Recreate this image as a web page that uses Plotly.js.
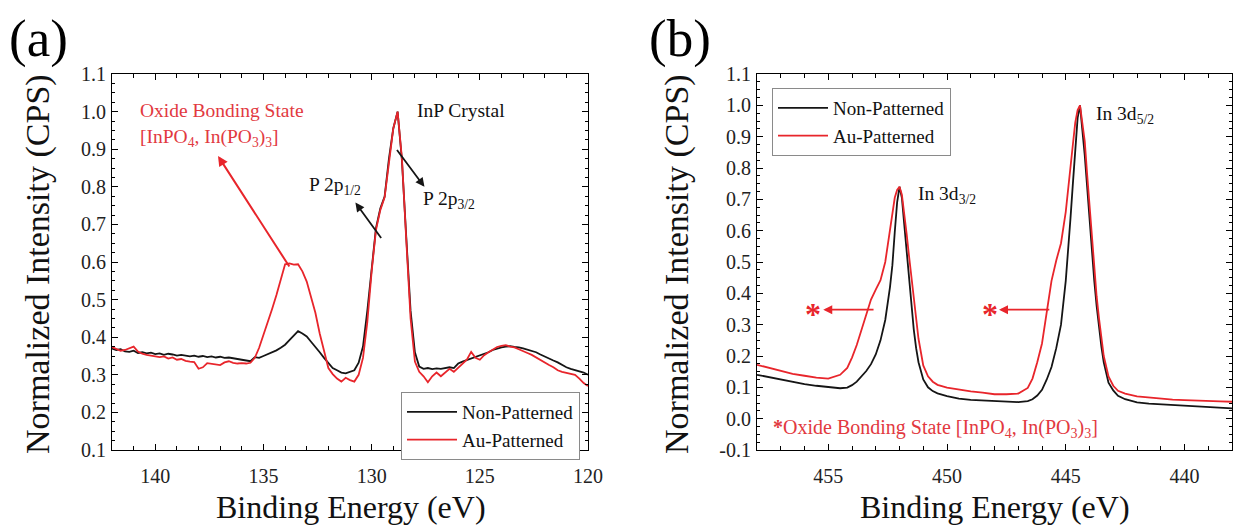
<!DOCTYPE html>
<html>
<head>
<meta charset="utf-8">
<script src="https://cdn.plot.ly/plotly-3.0.1.min.js"></script>
</head>
<body style="margin:0;background:#fff">
<div id="chart" style="width:1234px;height:529px"></div>
<script>
// ---------- Panel (a): P 2p region ----------
const aEnergy = [
  142.0,141.8,141.6,141.4,141.2,141.0,140.8,140.6,140.4,140.2,
  140.0,139.8,139.6,139.4,139.2,139.0,138.8,138.6,138.4,138.2,
  138.0,137.8,137.6,137.4,137.2,137.0,136.8,136.6,136.4,136.2,
  136.0,135.8,135.6,135.4,135.2,135.0,134.8,134.6,134.4,134.2,
  134.0,133.8,133.6,133.4,133.2,133.0,132.8,132.6,132.4,132.2,
  132.0,131.8,131.6,131.4,131.2,131.0,130.8,130.6,130.4,130.2,
  130.0,129.8,129.6,129.4,129.2,129.0,128.8,128.6,128.4,128.2,
  128.0,127.8,127.6,127.4,127.2,127.0,126.8,126.6,126.4,126.2,
  126.0,125.8,125.6,125.4,125.2,125.0,124.8,124.6,124.4,124.2,
  124.0,123.8,123.6,123.4,123.2,123.0,122.8,122.6,122.4,122.2,
  122.0,121.8,121.6,121.4,121.2,121.0,120.8,120.6,120.4,120.2,
  120.0
];
const aNonPatterned = [
  0.370,0.366,0.368,0.362,0.361,0.364,0.358,0.360,0.357,0.359,
  0.355,0.357,0.353,0.356,0.354,0.351,0.353,0.351,0.349,0.351,
  0.348,0.350,0.347,0.349,0.346,0.348,0.345,0.346,0.343,0.342,
  0.340,0.338,0.336,0.347,0.345,0.350,0.355,0.358,0.365,0.372,
  0.380,0.392,0.404,0.416,0.410,0.402,0.388,0.375,0.360,0.345,
  0.330,0.318,0.312,0.306,0.304,0.307,0.312,0.332,0.375,0.470,
  0.590,0.690,0.742,0.774,0.875,0.955,1.000,0.870,0.667,0.470,
  0.360,0.322,0.316,0.318,0.315,0.317,0.316,0.319,0.320,0.318,
  0.330,0.335,0.339,0.342,0.346,0.352,0.356,0.360,0.366,0.370,
  0.373,0.375,0.376,0.374,0.373,0.370,0.367,0.365,0.360,0.354,
  0.348,0.342,0.338,0.333,0.326,0.320,0.316,0.313,0.310,0.306,
  0.300
];
const aAuPatterned = [
  0.374,0.370,0.364,0.366,0.370,0.375,0.362,0.356,0.353,0.351,
  0.350,0.347,0.349,0.343,0.346,0.340,0.342,0.337,0.335,0.334,
  0.316,0.320,0.331,0.329,0.327,0.326,0.333,0.336,0.332,0.330,
  0.331,0.330,0.332,0.345,0.372,0.405,0.438,0.475,0.512,0.555,
  0.594,0.596,0.593,0.594,0.575,0.548,0.505,0.465,0.410,0.360,
  0.318,0.302,0.290,0.282,0.292,0.286,0.282,0.300,0.345,0.440,
  0.575,0.685,0.738,0.772,0.870,0.955,1.000,0.875,0.660,0.450,
  0.335,0.308,0.296,0.280,0.296,0.306,0.296,0.305,0.316,0.308,
  0.318,0.330,0.340,0.361,0.345,0.340,0.352,0.360,0.366,0.374,
  0.377,0.379,0.375,0.373,0.368,0.362,0.358,0.353,0.346,0.338,
  0.332,0.326,0.320,0.312,0.308,0.305,0.302,0.300,0.290,0.278,
  0.270
];

// ---------- Panel (b): In 3d region ----------
const bEnergy = [
  458.0,457.5,457.0,456.5,456.0,455.5,455.0,454.5,454.2,454.0,
  453.8,453.6,453.4,453.2,453.0,452.8,452.6,452.4,452.3,452.2,
  452.1,452.0,451.9,451.8,451.7,451.6,451.5,451.4,451.3,451.2,
  451.0,450.8,450.6,450.4,450.0,449.5,449.0,448.5,448.0,447.5,
  447.0,446.6,446.4,446.2,446.0,445.8,445.6,445.4,445.2,445.0,
  444.9,444.8,444.7,444.6,444.5,444.4,444.3,444.2,444.1,444.0,
  443.9,443.8,443.7,443.6,443.5,443.4,443.2,443.0,442.8,442.5,
  442.0,441.5,441.0,440.5,440.0,439.5,439.0,438.5,438.0
];
const bNonPatterned = [
  0.140,0.132,0.124,0.116,0.110,0.105,0.100,0.097,0.099,0.107,
  0.118,0.134,0.152,0.174,0.205,0.250,0.315,0.420,0.490,0.595,
  0.690,0.740,0.705,0.620,0.530,0.440,0.360,0.285,0.225,0.180,
  0.125,0.100,0.088,0.081,0.072,0.064,0.060,0.058,0.055,0.054,
  0.053,0.056,0.062,0.074,0.092,0.125,0.165,0.225,0.300,0.440,
  0.530,0.640,0.750,0.870,0.960,1.000,0.930,0.840,0.740,0.635,
  0.530,0.440,0.360,0.290,0.230,0.180,0.115,0.090,0.073,0.062,
  0.052,0.048,0.046,0.045,0.042,0.040,0.037,0.035,0.033
];
const bAuPatterned = [
  0.172,0.162,0.153,0.143,0.137,0.131,0.128,0.140,0.162,0.195,
  0.235,0.282,0.335,0.380,0.412,0.442,0.500,0.610,0.660,0.705,
  0.730,0.740,0.715,0.660,0.590,0.520,0.455,0.385,0.320,0.255,
  0.170,0.135,0.118,0.108,0.099,0.092,0.087,0.083,0.078,0.078,
  0.080,0.098,0.128,0.180,0.240,0.340,0.440,0.505,0.560,0.660,
  0.725,0.805,0.875,0.945,0.985,1.000,0.950,0.885,0.780,0.680,
  0.585,0.480,0.390,0.320,0.250,0.200,0.135,0.105,0.089,0.080,
  0.071,0.067,0.064,0.061,0.059,0.057,0.056,0.055,0.054
];

const seriesNames = ['Non-Patterned', 'Au-Patterned'];
const yTickValsA = [0.1,0.2,0.3,0.4,0.5,0.6,0.7,0.8,0.9,1.0,1.1];
const yTickTextA = ['0.1','0.2','0.3','0.4','0.5','0.6','0.7','0.8','0.9','1.0','1.1'];
const yTickValsB = [-0.1,0.0,0.1,0.2,0.3,0.4,0.5,0.6,0.7,0.8,0.9,1.0,1.1];
const yTickTextB = ['-0.1','0.0','0.1','0.2','0.3','0.4','0.5','0.6','0.7','0.8','0.9','1.0','1.1'];

const FONT = "'Liberation Serif', serif";
const BLACK = '#151515';
const RED = '#e8252b';
const RED_TXT = '#e2393f';
const W = 1234, H = 529;
const px = v => v / W;          // horizontal pixel -> paper
const py = v => 1 - v / H;      // vertical pixel -> paper

const traces = [
  {x: aEnergy, y: aNonPatterned, name: seriesNames[0], type: 'scatter', mode: 'lines',
   line: {color: BLACK, width: 1.8}, xaxis: 'x', yaxis: 'y', legend: 'legend'},
  {x: aEnergy, y: aAuPatterned, name: seriesNames[1], type: 'scatter', mode: 'lines',
   line: {color: RED, width: 1.8}, xaxis: 'x', yaxis: 'y', legend: 'legend'},
  {x: bEnergy, y: bNonPatterned, name: seriesNames[0], type: 'scatter', mode: 'lines',
   line: {color: BLACK, width: 1.8}, xaxis: 'x2', yaxis: 'y2', legend: 'legend2'},
  {x: bEnergy, y: bAuPatterned, name: seriesNames[1], type: 'scatter', mode: 'lines',
   line: {color: RED, width: 1.8}, xaxis: 'x2', yaxis: 'y2', legend: 'legend2'}
];

function xAxis(domain, range, anchor) {
  return {
    domain: domain, range: range, anchor: anchor,
    showline: true, linecolor: '#000', linewidth: 1.2, mirror: 'allticks',
    ticks: 'inside', ticklen: 6, tickwidth: 1.2, tickcolor: '#000',
    dtick: 5, tick0: 120, showgrid: false, zeroline: false,
    ticklabelstandoff: 8,
    tickfont: {family: FONT, size: 20, color: '#222'},
    minor: {ticks: 'inside', ticklen: 3.5, tickwidth: 1, tickcolor: '#000', dtick: 1, showgrid: false}
  };
}
function yAxis(domain, range, anchor, vals, text) {
  return {
    domain: domain, range: range, anchor: anchor,
    showline: true, linecolor: '#000', linewidth: 1.2, mirror: 'allticks',
    ticks: 'inside', ticklen: 6, tickwidth: 1.2, tickcolor: '#000',
    tickmode: 'array', tickvals: vals, ticktext: text,
    showgrid: false, zeroline: false, ticklabelstandoff: 1,
    tickfont: {family: FONT, size: 20, color: '#222'},
    minor: {ticks: 'inside', ticklen: 3, tickwidth: 1, tickcolor: '#000', dtick: 0.025, tick0: 0, showgrid: false}
  };
}

const yDom = [1 - 450 / H, 1 - 74 / H];

const annotations = [
  // panel labels
  {xref: 'paper', yref: 'paper', x: px(39), y: py(38), text: '(a)', showarrow: false,
   font: {family: FONT, size: 53, color: '#000'}, xanchor: 'center', yanchor: 'middle'},
  {xref: 'paper', yref: 'paper', x: px(680), y: py(38), text: '(b)', showarrow: false,
   font: {family: FONT, size: 53, color: '#000'}, xanchor: 'center', yanchor: 'middle'},
  // axis titles
  {xref: 'paper', yref: 'paper', x: px(351), y: py(507), text: 'Binding Energy (eV)', showarrow: false,
   font: {family: FONT, size: 32, color: '#111'}, xanchor: 'center', yanchor: 'middle'},
  {xref: 'paper', yref: 'paper', x: px(995), y: py(507), text: 'Binding Energy (eV)', showarrow: false,
   font: {family: FONT, size: 32, color: '#111'}, xanchor: 'center', yanchor: 'middle'},
  {xref: 'paper', yref: 'paper', x: px(38), y: py(264), text: 'Normalized Intensity (CPS)', showarrow: false,
   textangle: -90, font: {family: FONT, size: 34, color: '#111'}, xanchor: 'center', yanchor: 'middle'},
  {xref: 'paper', yref: 'paper', x: px(677), y: py(264), text: 'Normalized Intensity (CPS)', showarrow: false,
   textangle: -90, font: {family: FONT, size: 34, color: '#111'}, xanchor: 'center', yanchor: 'middle'},

  // panel (a) annotations
  {xref: 'x', yref: 'y', x: 140.8, y: 1.004, text: 'Oxide Bonding State', showarrow: false,
   xanchor: 'left', yanchor: 'middle', font: {family: FONT, size: 19.5, color: RED_TXT}},
  {xref: 'x', yref: 'y', x: 140.8, y: 0.930, text: '[InPO<sub>4</sub>, In(PO<sub>3</sub>)<sub>3</sub>]', showarrow: false,
   xanchor: 'left', yanchor: 'middle', font: {family: FONT, size: 19.5, color: RED_TXT}},
  {xref: 'x', yref: 'y', x: 137.1, y: 0.882, ax: 133.76, ay: 0.584, axref: 'x', ayref: 'y',
   text: '', showarrow: true, arrowhead: 2, arrowsize: 1, arrowwidth: 2, arrowcolor: RED},
  {xref: 'x', yref: 'y', x: 125.86, y: 1.004, text: 'InP Crystal', showarrow: false,
   xanchor: 'center', yanchor: 'middle', font: {family: FONT, size: 19.5, color: '#111'}},
  {xref: 'x', yref: 'y', x: 132.98, y: 0.802, text: 'P 2p<sub>1/2</sub>', showarrow: false,
   xanchor: 'left', yanchor: 'middle', font: {family: FONT, size: 19.5, color: '#111'}},
  {xref: 'x', yref: 'y', x: 130.75, y: 0.758, ax: 129.51, ay: 0.660, axref: 'x', ayref: 'y',
   text: '', showarrow: true, arrowhead: 2, arrowsize: 1, arrowwidth: 1.8, arrowcolor: BLACK},
  {xref: 'x', yref: 'y', x: 127.74, y: 0.765, text: 'P 2p<sub>3/2</sub>', showarrow: false,
   xanchor: 'left', yanchor: 'middle', font: {family: FONT, size: 19.5, color: '#111'}},
  {xref: 'x', yref: 'y', x: 127.56, y: 0.800, ax: 128.88, ay: 0.902, axref: 'x', ayref: 'y',
   text: '', showarrow: true, arrowhead: 2, arrowsize: 1, arrowwidth: 1.8, arrowcolor: BLACK},

  // panel (b) annotations
  {xref: 'x2', yref: 'y2', x: 451.3, y: 0.714, text: 'In 3d<sub>3/2</sub>', showarrow: false,
   xanchor: 'left', yanchor: 'middle', font: {family: FONT, size: 19.5, color: '#111'}},
  {xref: 'x2', yref: 'y2', x: 443.81, y: 0.969, text: 'In 3d<sub>5/2</sub>', showarrow: false,
   xanchor: 'left', yanchor: 'middle', font: {family: FONT, size: 19.5, color: '#111'}},
  {xref: 'x2', yref: 'y2', x: 455.64, y: 0.335, text: '<b>*</b>', showarrow: false,
   xanchor: 'center', yanchor: 'middle', font: {family: FONT, size: 32, color: RED}},
  {xref: 'x2', yref: 'y2', x: 448.21, y: 0.335, text: '<b>*</b>', showarrow: false,
   xanchor: 'center', yanchor: 'middle', font: {family: FONT, size: 32, color: RED}},
  {xref: 'x2', yref: 'y2', x: 455.21, y: 0.348, ax: 453.03, ay: 0.348, axref: 'x2', ayref: 'y2',
   text: '', showarrow: true, arrowhead: 2, arrowsize: 1, arrowwidth: 1.8, arrowcolor: RED},
  {xref: 'x2', yref: 'y2', x: 447.81, y: 0.348, ax: 445.63, ay: 0.348, axref: 'x2', ayref: 'y2',
   text: '', showarrow: true, arrowhead: 2, arrowsize: 1, arrowwidth: 1.8, arrowcolor: RED},
  {xref: 'x2', yref: 'y2', x: 457.41, y: -0.03,
   text: '<b>*</b>Oxide Bonding State [InPO<sub>4</sub>, In(PO<sub>3</sub>)<sub>3</sub>]', showarrow: false,
   xanchor: 'left', yanchor: 'middle', font: {family: FONT, size: 20, color: RED_TXT}}
];

const legendStyle = {
  xanchor: 'left', yanchor: 'top', bgcolor: '#fff', bordercolor: '#8a8a8a', borderwidth: 1,
  font: {family: FONT, size: 19, color: '#111'}, tracegroupgap: 0, itemwidth: 50
};

const layout = {
  width: W, height: H,
  margin: {l: 0, r: 0, t: 0, b: 0},
  paper_bgcolor: '#fff', plot_bgcolor: '#fff',
  font: {family: FONT, size: 19},
  xaxis: xAxis([112 / W, 588 / W], [142, 120], 'y'),
  yaxis: yAxis(yDom, [0.1, 1.1], 'x', yTickValsA, yTickTextA),
  xaxis2: Object.assign(xAxis([757 / W, 1232 / W], [458, 438], 'y2'), {tick0: 440}),
  yaxis2: yAxis(yDom, [-0.1, 1.1], 'x2', yTickValsB, yTickTextB),
  legend: Object.assign({x: px(401), y: py(392)}, legendStyle),
  legend2: Object.assign({x: px(772), y: py(88)}, legendStyle),
  showlegend: true,
  annotations: annotations
};

Plotly.newPlot('chart', traces, layout, {displayModeBar: false});
</script>
</body>
</html>
